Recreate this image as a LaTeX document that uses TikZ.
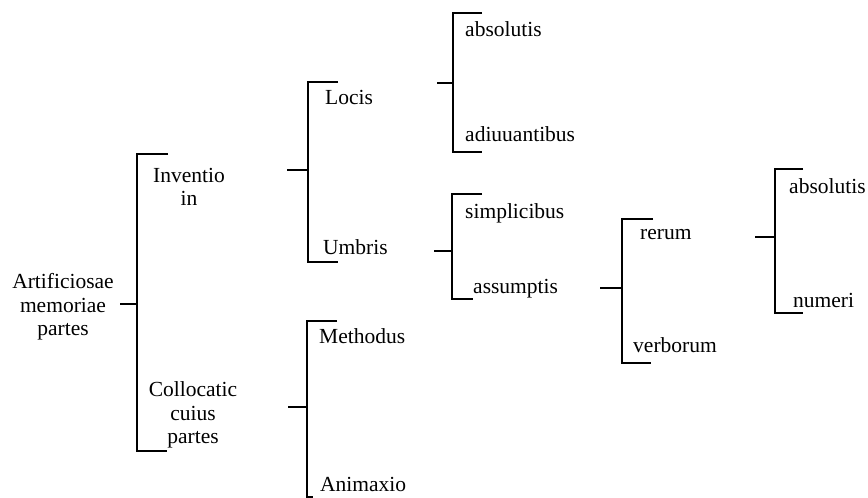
\documentclass[tikz,border=0pt]{standalone}
\usepackage{fontspec}
\setmainfont{Liberation Serif}
\begin{document}
\begin{tikzpicture}[x=1pt,y=-1pt,
  lbl/.style={inner sep=0pt,anchor=west,text height=0.68em,text depth=0.22em,font=\fontsize{21.5}{23.5}\selectfont,yshift=-4pt},
  multi/.style={inner sep=0pt,align=center,font=\fontsize{21.5}{23.5}\selectfont,yshift=-2pt},
  brk/.style={line width=1.8pt,line cap=butt,line join=miter}]
\useasboundingbox (0,0) rectangle (868,498);
% labels
\node[multi] (root) at (63,305) {Artificiosae\\memoriae\\partes};
\node[multi] (inv) at (189,185) {Inventio\\in};
\node[multi] (col) at (193,413) {Collocatic\\cuius\\partes};
\node[lbl] (locis) at (325,98) {Locis};
\node[lbl] (umbris) at (323,248) {Umbris};
\node[lbl] (abs1) at (465,30) {absolutis};
\node[lbl] (adiu) at (465,135) {adiuuantibus};
\node[lbl] (simp) at (465,212) {simplicibus};
\node[lbl] (assu) at (473,287) {assumptis};
\node[lbl] (rerum) at (640,233) {rerum};
\node[lbl] (verb) at (633,346) {verborum};
\node[lbl] (abs2) at (789,187) {absolutis};
\node[lbl] (num) at (793,301) {numeri};
\node[lbl] (meth) at (319,337) {Methodus};
\node[lbl] (anim) at (320,485) {Animaxio};
% bracket coordinates
\coordinate (s1) at (120,304); \coordinate (m1) at (137,304);
\coordinate (s2) at (287,170); \coordinate (m2) at (308,170);
\coordinate (s3) at (437,83);  \coordinate (m3) at (453,83);
\coordinate (s4) at (434,251); \coordinate (m4) at (452,251);
\coordinate (s5) at (600,288); \coordinate (m5) at (622,288);
\coordinate (s6) at (755,237); \coordinate (m6) at (775,237);
\coordinate (s7) at (288,407); \coordinate (m7) at (307,407);
% brackets
\draw[brk] (168,154) -- (137,154) -- (137,451) -- (167,451);
\draw[brk] (s1) -- (m1);
\draw[brk] (338,82) -- (308,82) -- (308,262) -- (338,262);
\draw[brk] (s2) -- (m2);
\draw[brk] (482,13) -- (453,13) -- (453,152) -- (482,152);
\draw[brk] (s3) -- (m3);
\draw[brk] (482,194) -- (452,194) -- (452,299) -- (473,299);
\draw[brk] (s4) -- (m4);
\draw[brk] (653,219) -- (622,219) -- (622,363) -- (651,363);
\draw[brk] (s5) -- (m5);
\draw[brk] (803,169) -- (775,169) -- (775,313) -- (803,313);
\draw[brk] (s6) -- (m6);
\draw[brk] (337,321) -- (307,321) -- (307,497) -- (313,497);
\draw[brk] (s7) -- (m7);
\end{tikzpicture}
\end{document}
